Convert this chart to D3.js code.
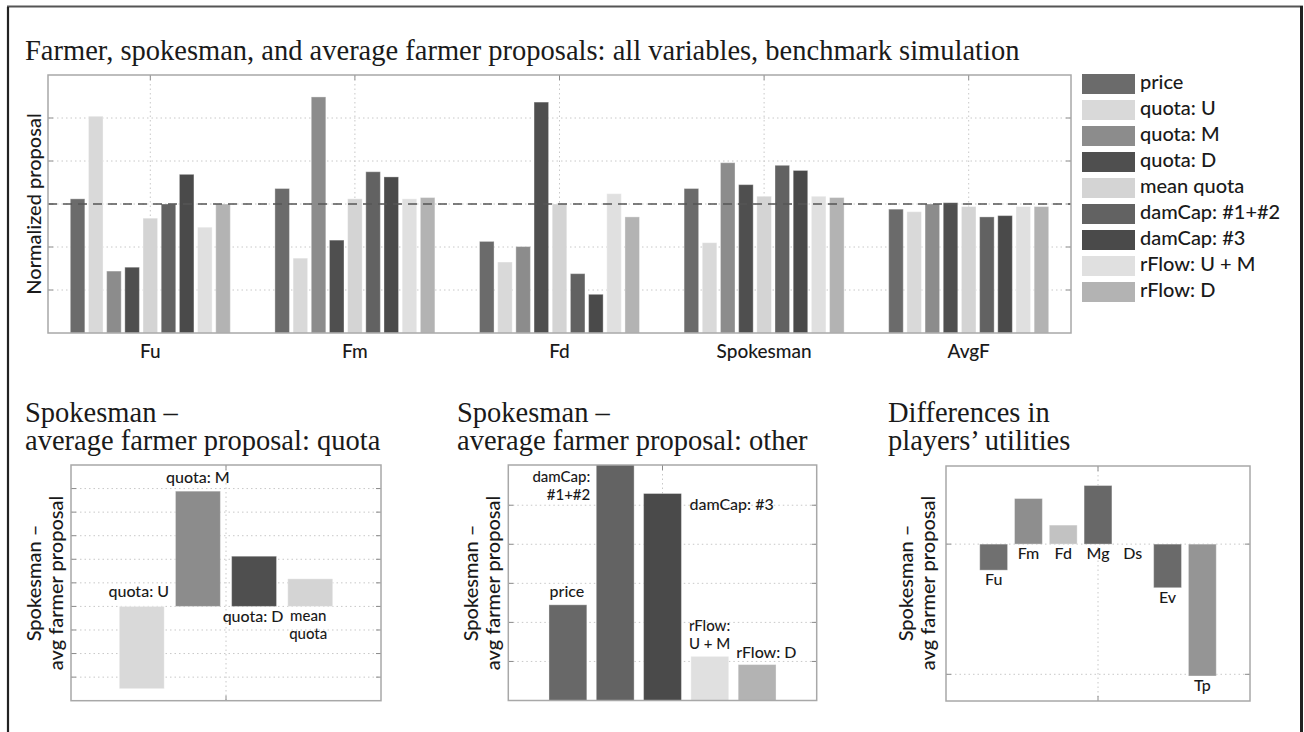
<!DOCTYPE html>
<html><head><meta charset="utf-8">
<script src="https://cdn.jsdelivr.net/npm/d3@7"></script>
<style>
html,body{margin:0;padding:0;background:#fff;}
svg{display:block;}
.sans{font-family:Lato,"Open Sans",sans-serif;font-weight:500;}
.serif{font-family:"Liberation Serif","DejaVu Serif",serif;}
</style></head>
<body>
<svg id="chart" width="1304" height="732"></svg>
<script>
// ---------------- DATA ----------------
const groups = ["Fu", "Fm", "Fd", "Spokesman", "AvgF"];
const seriesNames = ["price", "quota: U", "quota: M", "quota: D", "mean quota",
  "damCap: #1+#2", "damCap: #3", "rFlow: U + M", "rFlow: D"];
const valuesFu        = [1.04, 1.68, 0.48, 0.51, 0.89, 1.00, 1.23, 0.82, 1.00];
const valuesFm        = [1.12, 0.58, 1.83, 0.72, 1.04, 1.25, 1.21, 1.04, 1.05];
const valuesFd        = [0.71, 0.55, 0.67, 1.79, 1.00, 0.46, 0.30, 1.08, 0.90];
const valuesSpokesman = [1.12, 0.70, 1.32, 1.15, 1.06, 1.30, 1.26, 1.06, 1.05];
const valuesAvgF      = [0.96, 0.94, 1.00, 1.01, 0.98, 0.90, 0.91, 0.98, 0.98];
const seriesColors = ["#6b6b6b", "#d9d9d9", "#8c8c8c", "#4f4f4f", "#d4d4d4",
  "#626262", "#4a4a4a", "#e0e0e0", "#b3b3b3"];

const quotaNames  = ["quota: U", "quota: M", "quota: D", "mean quota"];
const quotaDiff   = [-3.49, 4.89, 2.13, 1.17];
const quotaColors = ["#d9d9d9", "#8c8c8c", "#4f4f4f", "#d4d4d4"];

const otherNames  = ["price", "damCap: #1+#2", "damCap: #3", "rFlow: U + M", "rFlow: D"];
const otherDiff   = [2.45, 6.5, 5.30, 1.13, 0.92];
const otherColors = ["#686868", "#636363", "#4a4a4a", "#e0e0e0", "#b3b3b3"];

const playerNames   = ["Fu", "Fm", "Fd", "Mg", "Ds", "Ev", "Tp"];
const utilityDiff   = [-0.20, 0.35, 0.146, 0.45, 0.0, -0.335, -1.013];
const utilityColors = ["#707070", "#8e8e8e", "#c2c2c2", "#686868", "#686868", "#6a6a6a", "#959595"];

const groupValues = [valuesFu, valuesFm, valuesFd, valuesSpokesman, valuesAvgF];

// ---------------- DRAW ----------------
const svg = d3.select("#chart");
const GRID = "#c8c8c8", BOX = "#a8a8a8", TICK = "#8a8a8a", TXT = "#1a1a1a";

// outer frame
svg.append("line").attr("x1", 7).attr("x2", 1303).attr("y1", 6.5).attr("y2", 6.5)
  .attr("stroke", "#555").attr("stroke-width", 2);
svg.append("line").attr("x1", 8).attr("x2", 8).attr("y1", 7).attr("y2", 732)
  .attr("stroke", "#222").attr("stroke-width", 2.2);
svg.append("line").attr("x1", 1301.5).attr("x2", 1301.5).attr("y1", 6).attr("y2", 732)
  .attr("stroke", "#222").attr("stroke-width", 3);

function title(x, y, lines) {
  const t = svg.append("text").attr("class", "serif").attr("x", x).attr("y", y)
    .attr("font-size", 28.5).attr("fill", TXT);
  lines.forEach((l, i) => t.append("tspan").attr("x", x).attr("dy", i ? 28 : 0).text(l));
}
function ylabel(cx, cy, lines, size) {
  const g = svg.append("g").attr("transform", `translate(${cx},${cy}) rotate(-90)`);
  lines.forEach((l, i) => g.append("text").attr("class", "sans")
    .attr("x", 0).attr("y", i * 22).attr("text-anchor", "middle")
    .attr("font-size", size).attr("fill", TXT).text(l));
}
function frame(x0, y0, x1, y1) {
  svg.append("rect").attr("x", x0).attr("y", y0).attr("width", x1 - x0).attr("height", y1 - y0)
    .attr("fill", "none").attr("stroke", BOX).attr("stroke-width", 1.5);
}
function hgrid(y, ticks, x0, x1) {
  ticks.forEach(t => {
    svg.append("line").attr("x1", x0).attr("x2", x1).attr("y1", y(t)).attr("y2", y(t))
      .attr("stroke", GRID).attr("stroke-dasharray", "1.5,3");
    svg.append("line").attr("x1", x0).attr("x2", x0 + 5).attr("y1", y(t)).attr("y2", y(t)).attr("stroke", TICK);
    svg.append("line").attr("x1", x1 - 5).attr("x2", x1).attr("y1", y(t)).attr("y2", y(t)).attr("stroke", TICK);
  });
}
function vgrid(xs, y0, y1) {
  xs.forEach(x => {
    svg.append("line").attr("x1", x).attr("x2", x).attr("y1", y0).attr("y2", y1)
      .attr("stroke", GRID).attr("stroke-dasharray", "1.5,3");
    svg.append("line").attr("x1", x).attr("x2", x).attr("y1", y0).attr("y2", y0 + 5).attr("stroke", TICK);
    svg.append("line").attr("x1", x).attr("x2", x).attr("y1", y1 - 5).attr("y2", y1).attr("stroke", TICK);
  });
}

// ---- Top chart ----
title(25, 60, ["Farmer, spokesman, and average farmer proposals: all variables, benchmark simulation"]);
const L = 48, R = 1071, T = 75, B = 333;
const x0 = d3.scaleBand().domain(groups).range([L, R]).padding(0);
const x1 = d3.scaleBand().domain(seriesNames).range([-80, 80]).paddingInner(0.2);
const y = d3.scaleLinear().domain([0, 2]).range([B, T]);
const yTicks = [1, 2, 3, 4, 5].map(k => k / 3);
hgrid(y, yTicks, L, R);
vgrid(groups.map(g => x0(g) + x0.bandwidth() / 2), T, B);

const gG = svg.selectAll("g.grp").data(groups).enter().append("g")
  .attr("transform", g => `translate(${x0(g) + x0.bandwidth() / 2},0)`);
gG.selectAll("rect").data((g, gi) => groupValues[gi].map((v, i) => ({ v, i })))
  .enter().append("rect")
  .attr("x", d => x1(seriesNames[d.i])).attr("width", x1.bandwidth())
  .attr("y", d => y(d.v)).attr("height", d => y(0) - y(d.v))
  .attr("fill", d => seriesColors[d.i])
  .attr("stroke", "#fff").attr("stroke-opacity", 0.35).attr("stroke-width", 1);

svg.append("line").attr("x1", L).attr("x2", R).attr("y1", y(1)).attr("y2", y(1))
  .attr("stroke", "#555").attr("stroke-width", 1.3).attr("stroke-dasharray", "9,6");
frame(L, T, R, B);

svg.append("g").attr("transform", `translate(0,${B})`)
  .call(d3.axisBottom(x0).tickSize(0).tickPadding(12))
  .call(g => g.select(".domain").remove())
  .selectAll("text").attr("class", "sans").attr("font-size", 19).attr("fill", TXT)
  .attr("font-family", "Lato");
ylabel(41, (T + B) / 2, ["Normalized proposal"], 20);

// legend
const lg = svg.append("g").attr("transform", "translate(1082,74)");
const li = lg.selectAll("g").data(seriesNames).enter().append("g")
  .attr("transform", (d, i) => `translate(0,${i * 26})`);
li.append("rect").attr("width", 53).attr("height", 20).attr("fill", (d, i) => seriesColors[i]);
li.append("text").attr("class", "sans").attr("x", 58).attr("y", 15)
  .attr("font-size", 20).attr("fill", TXT).text(d => d);

// ---- generic bottom panel ----
function barPanel(o) {
  const xs = d3.scaleLinear().domain(o.xdom).range([o.L, o.R]);
  const ys = d3.scaleLinear().domain(o.ydom).range([o.B, o.T]);
  hgrid(ys, o.yticks, o.L, o.R);
  vgrid([xs(o.xtick)], o.T, o.B);
  const cid = "clip" + Math.round(o.L);
  svg.append("clipPath").attr("id", cid).append("rect")
    .attr("x", o.L).attr("y", o.T).attr("width", o.R - o.L).attr("height", o.B - o.T);
  svg.append("g").attr("clip-path", `url(#${cid})`)
    .selectAll("rect").data(o.values).enter().append("rect")
    .attr("x", (v, i) => xs(i + 1 - 0.4)).attr("width", xs(0.8) - xs(0))
    .attr("y", v => Math.min(ys(0), ys(v))).attr("height", v => Math.abs(ys(v) - ys(0)))
    .attr("fill", (v, i) => o.colors[i])
    .attr("stroke", "#fff").attr("stroke-opacity", 0.35);
  frame(o.L, o.T, o.R, o.B);
  return { xs, ys };
}
function label(x, yy, lines, anchor, size) {
  const fs = size || 16;
  const lead = lines.length > 1 ? 17.5 : 0;
  const s = lines.length > 1 ? 15 : fs;
  lines.forEach((l, i) => svg.append("text").attr("class", "sans")
    .attr("x", x).attr("y", yy + i * lead)
    .attr("text-anchor", anchor).attr("font-size", s).attr("fill", TXT).text(l));
}

// Panel 1
title(25, 422, ["Spokesman \u2013", "average farmer proposal: quota"]);
const p1 = barPanel({ L: 71, R: 381, T: 465, B: 700.7, xdom: [-0.26, 5.26], ydom: [-4, 6],
  yticks: [-3, -2, -1, 0, 1, 2, 3, 4, 5], xtick: 2.5, values: quotaDiff, colors: quotaColors });
label(p1.xs(1) - 3, p1.ys(0) - 9, ["quota: U"], "middle");
label(p1.xs(2), p1.ys(quotaDiff[1]) - 8, ["quota: M"], "middle");
label(p1.xs(3) - 1, p1.ys(0) + 16, ["quota: D"], "middle");
label(p1.xs(4) - 2, p1.ys(0) + 15, ["mean", "quota"], "middle");
ylabel(41, 583, ["Spokesman \u2013", "avg farmer proposal"], 20);

// Panel 2
title(457, 422, ["Spokesman \u2013", "average farmer proposal: other"]);
const p2 = barPanel({ L: 508.3, R: 816.7, T: 465, B: 700.5, xdom: [-0.26, 6.26], ydom: [0, 6.03],
  yticks: [1, 2, 3, 4, 5], xtick: 3, values: otherDiff, colors: otherColors });
label(p2.xs(1) - 1, p2.ys(otherDiff[0]) - 8, ["price"], "middle");
label(p2.xs(2 - 0.4) - 6, 482, ["damCap:", "#1+#2"], "end");
label(p2.xs(3 + 0.4) + 8, 510, ["damCap: #3"], "start");
label(p2.xs(4 - 0.4) - 2, p2.ys(otherDiff[3]) - 25, ["rFlow:", "U + M"], "start");
label(p2.xs(5 - 0.4) - 2, p2.ys(otherDiff[4]) - 7, ["rFlow: D"], "start");
ylabel(478, 583, ["Spokesman \u2013", "avg farmer proposal"], 20);

// Panel 3
title(888, 422, ["Differences in", "players\u2019 utilities"]);
const p3 = barPanel({ L: 946, R: 1250, T: 466, B: 701, xdom: [-0.37, 8.37], ydom: [-1.205, 0.6],
  yticks: [-1, 0], xtick: 4, values: utilityDiff, colors: utilityColors });
playerNames.forEach((n, i) => {
  const v = utilityDiff[i];
  const yy = v >= 0 ? p3.ys(0) + 15 : p3.ys(v) + 15;
  label(p3.xs(i + 1), yy, [n], "middle");
});
ylabel(913, 583, ["Spokesman \u2013", "avg farmer proposal"], 20);
</script>
</body></html>
